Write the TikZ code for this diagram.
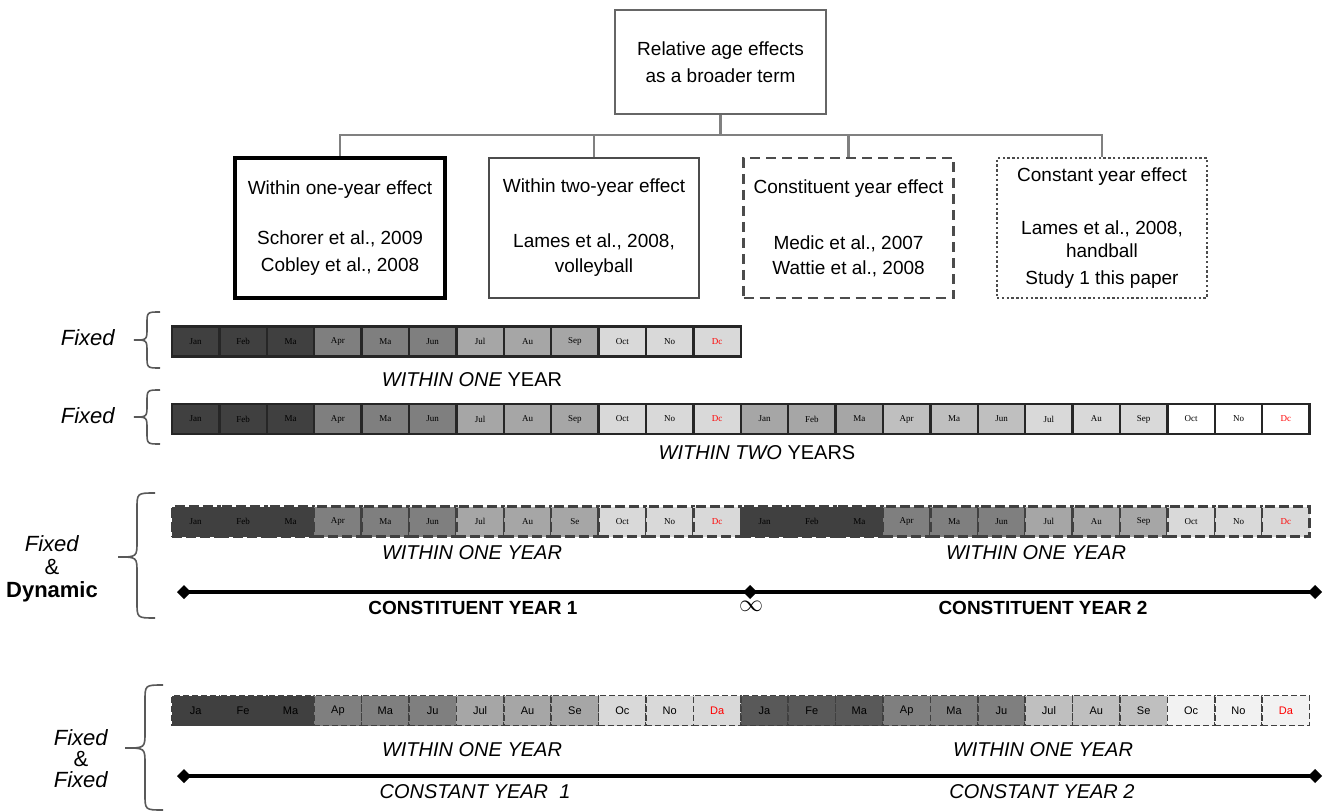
\documentclass[tikz,border=0pt]{standalone}
\usepackage{fontspec}
\setmainfont{Liberation Sans}
\newfontfamily\mserif{Liberation Serif}
\usetikzlibrary{arrows.meta}
\definecolor{gA}{HTML}{404040}
\definecolor{gB}{HTML}{7F7F7F}
\definecolor{gC}{HTML}{A6A6A6}
\definecolor{gD}{HTML}{D9D9D9}
\definecolor{gE}{HTML}{BFBFBF}
\definecolor{gF}{HTML}{595959}
\definecolor{gG}{HTML}{F2F2F2}
\newcommand{\mybrace}[7]{%
  \draw[brc] (#1,#4) .. controls (#2,#4) .. (#2,#4+#7) -- (#2,#5-#7)
    .. controls (#2,#5) .. (#3,#5) .. controls (#2,#5) .. (#2,#5+#7)
    -- (#2,#6-#7) .. controls (#2,#6) .. (#1,#6);}
\begin{document}
\begin{tikzpicture}[x=0.5pt,y=-0.5pt,
  txt/.style={font=\fontsize{9.5}{13.5}\selectfont},
  ebox/.style={minimum width=105pt, minimum height=70pt, align=center, inner sep=0pt, txt},
  treeline/.style={draw=black!50, line width=1.2pt},
  mon/.style={minimum width=23.7pt, minimum height=15pt, inner sep=0pt},
  monA/.style={mon, draw=black!85, line width=1.2pt, font=\mserif\fontsize{4.5}{5}\selectfont},
  monB/.style={mon, draw=black!75, line width=1.2pt, dash pattern=on 5pt off 2pt, font=\mserif\fontsize{4.5}{5}\selectfont},
  monC/.style={mon, draw=black!75, line width=0.8pt, dash pattern=on 3pt off 1.5pt, font=\fontsize{5.5}{6}\selectfont},
  lbl/.style={font=\fontsize{10}{12}\selectfont},
  side/.style={font=\fontsize{11}{12.5}\selectfont, align=center},
  brc/.style={draw=black!65, line width=0.8pt},
  dline/.style={line width=2pt, {Diamond[length=7pt,width=7pt]}-{Diamond[length=7pt,width=7pt]}},
  dlineL/.style={line width=2pt, {Diamond[length=7pt,width=7pt]}-{Diamond[length=7pt,width=7pt,sep=-3.5pt]}},
  dlineR/.style={line width=2pt, -{Diamond[length=7pt,width=7pt]}}
]
\useasboundingbox (0,0) rectangle (1326,812);

% ---- tree ----
\node[draw=black!60, line width=1.2pt, minimum width=105.5pt, minimum height=52pt,
      align=center, inner sep=0pt, txt] (top) at (720.5,62) {Relative age effects\\as a broader term};
\node[ebox, draw=black, line width=2pt] (b1) at (340,228)
  {Within one-year effect\\[11.5pt]Schorer et al., 2009\\Cobley et al., 2008};
\node[ebox, draw=black!70, line width=1.4pt] (b2) at (594,228)
  {Within two-year effect\\[14pt]Lames et al., 2008,\\[-1pt]volleyball};
\node[ebox, draw=black!70, line width=1.2pt, dash pattern=on 5pt off 3pt] (b3) at (848.5,228)
  {Constituent year effect\\[14.5pt]Medic et al., 2007\\[-1pt]Wattie et al., 2008};
\node[ebox, draw=black!70, line width=1.2pt, dash pattern=on 1.2pt off 1.2pt] (b4) at (1102,228)
  {Constant year effect\\[13pt]Lames et al., 2008,\\[-2pt]handball\\Study 1 this paper};
\coordinate (bus) at (720.5,135);
\draw[treeline] (top.south) -- (top.south |- bus);
\draw[treeline] (b1.north) -- (b1.north |- bus) -| (b4.north);
\draw[treeline] (b2.north) -- (b2.north |- bus);
\draw[treeline] (b3.north) -- (b3.north |- bus);

% ---- row 1 ----
\foreach \k/\t/\f in {0/Jan/gA,1/Feb/gA,2/Ma/gA,3/Apr/gB,4/Ma/gB,5/Jun/gB,6/Jul/gC,7/Au/gC,8/Sep/gC,9/Oct/gD,10/No/gD,11/{\color{red}Dc}/gD}
  \node[monA, fill=\f] (ra\k) at ({172+47.4*\k+23.7},341.5) {\t};
\node[lbl] (la) at (472,380) {\textit{WITHIN ONE} YEAR};
\node[side] (sa) at (88,338) {\textit{Fixed}};
\mybrace{160}{147}{134}{312}{340}{368}{12}

% ---- row 2 ----
\foreach \k/\t/\f in {0/Jan/gA,1/Feb/gA,2/Ma/gA,3/Apr/gB,4/Ma/gB,5/Jun/gB,6/Jul/gC,7/Au/gC,8/Sep/gC,9/Oct/gD,10/No/gD,11/{\color{red}Dc}/gD,
  12/Jan/gC,13/Feb/gC,14/Ma/gC,15/Apr/gE,16/Ma/gE,17/Jun/gE,18/Jul/gD,19/Au/gD,20/Sep/gD,21/Oct/white,22/No/white,23/{\color{red}Dc}/white}
  \node[monA, fill=\f] (rb\k) at ({172+47.4*\k+23.7},419) {\t};
\node[lbl] (lb) at (757,453) {\textit{WITHIN TWO} YEARS};
\node[side] (sb) at (88,416) {\textit{Fixed}};
\mybrace{160}{147}{134}{390}{417}{444}{12}

% ---- row 3 ----
\foreach \k/\t/\f in {0/Jan/gA,1/Feb/gA,2/Ma/gA,3/Apr/gB,4/Ma/gB,5/Jun/gB,6/Jul/gC,7/Au/gC,8/Se/gC,9/Oct/gD,10/No/gD,11/{\color{red}Dc}/gD,
  12/Jan/gA,13/Feb/gA,14/Ma/gA,15/Apr/gB,16/Ma/gB,17/Jun/gB,18/Jul/gC,19/Au/gC,20/Sep/gC,21/Oct/gD,22/No/gD,23/{\color{red}Dc}/gD}
  \node[monB, fill=\f] (rc\k) at ({172+47.4*\k+23.7},521.5) {\t};
\node[lbl] (lc1) at (472,553) {\textit{WITHIN ONE YEAR}};
\node[lbl] (lc2) at (1036,553) {\textit{WITHIN ONE YEAR}};
\coordinate (c3a) at (177,592);
\coordinate (c3m) at (750,592);
\coordinate (c3b) at (1322,592);
\draw[dlineL] (c3a) -- (c3m);
\draw[dlineR] (c3m) -- (c3b);
\node[font=\bfseries\fontsize{9.5}{11}\selectfont] (k1) at (473,608) {CONSTITUENT YEAR 1};
\node[font=\fontsize{12}{12}\selectfont] (inf) at (751,606) {$\infty$};
\node[font=\bfseries\fontsize{9.5}{11}\selectfont] (k2) at (1043,608) {CONSTITUENT YEAR 2};
\node[side] (sc) at (52,569) {\textit{Fixed}\\[-1pt]\&\\[-1pt]\textbf{Dynamic}};
\mybrace{155}{137}{118}{493}{557}{618}{16}

% ---- row 4 ----
\foreach \k/\t/\f in {0/Ja/gA,1/Fe/gA,2/Ma/gA,3/Ap/gB,4/Ma/gB,5/Ju/gB,6/Jul/gC,7/Au/gC,8/Se/gC,9/Oc/gD,10/No/gD,11/{\color{red}Da}/gD,
  12/Ja/gF,13/Fe/gF,14/Ma/gF,15/Ap/gB,16/Ma/gB,17/Ju/gB,18/Jul/gE,19/Au/gE,20/Se/gE,21/Oc/gG,22/No/gG,23/{\color{red}Da}/gG}
  \node[monC, fill=\f] (rd\k) at ({172+47.4*\k+23.7},710.5) {\t};
\node[lbl] (ld1) at (472,750) {\textit{WITHIN ONE YEAR}};
\node[lbl] (ld2) at (1043,750) {\textit{WITHIN ONE YEAR}};
\coordinate (c4a) at (177,776);
\coordinate (c4b) at (1322,776);
\draw[dline] (c4a) -- (c4b);
\node[lbl] (m1) at (475,792) {\textit{CONSTANT YEAR~~1}};
\node[lbl] (m2) at (1042,792) {\textit{CONSTANT YEAR 2}};
\node[side] (sd) at (81,759) {\textit{Fixed}\\[-2pt]\&\\[-2pt]\textit{Fixed}};
\mybrace{163}{145}{125}{685}{748}{810}{16}
\end{tikzpicture}
\end{document}
